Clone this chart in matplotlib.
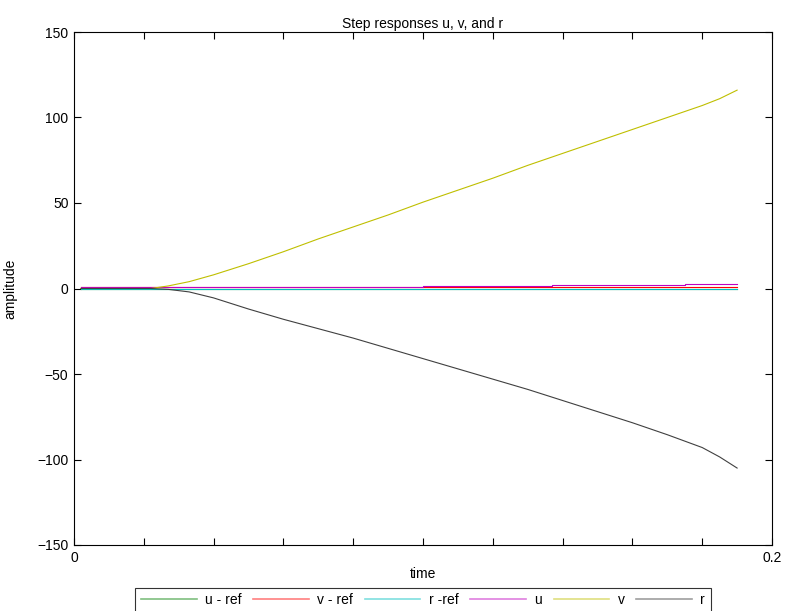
import matplotlib
matplotlib.use("Agg")
import matplotlib.pyplot as plt
import numpy as np

plt.rcParams['font.family'] = ['Liberation Sans', 'DejaVu Sans']

# Sample times and responses (seconds / amplitude)
t_vr = [0.002, 0.022, 0.027, 0.033, 0.040, 0.050, 0.060, 0.070, 0.080, 0.090,
        0.100, 0.110, 0.120, 0.130, 0.140, 0.150, 0.160, 0.170, 0.180, 0.185, 0.190]
v_resp = [0, 0, 1.5, 4, 8, 14.5, 21.5, 29, 36, 43,
          50.5, 57.5, 64.5, 72, 79, 86, 93, 100, 107, 111, 116]
r_resp = [0, 0, -0.5, -2, -5.5, -12, -18, -23.5, -29, -35,
          -41, -47, -53, -59, -65.5, -72, -78.5, -85.5, -93, -98.5, -105]

t_u = [0.002, 0.065, 0.065, 0.100, 0.100, 0.137, 0.137, 0.175, 0.175, 0.190]
u_resp = [0.8, 0.8, 1.1, 1.1, 1.4, 1.4, 1.8, 1.8, 2.5, 2.5]

t_ref = [0.002, 0.190]
u_ref = [0, 0]
v_ref = [0.8, 0.8]
r_ref = [0, 0]

labels = ['u - ref', 'v - ref', 'r -ref', 'u', 'v', 'r']
colors = [(0, 0.5, 0), (1, 0, 0), (0, 0.75, 0.75),
          (0.75, 0, 0.75), (0.75, 0.75, 0), (0.25, 0.25, 0.25)]

fig = plt.figure(figsize=(7.85, 6.11), dpi=100)
ax = fig.add_axes([74 / 785, 1 - 545 / 611, 698 / 785, 513 / 611])

series = [(t_ref, u_ref), (t_ref, v_ref), (t_ref, r_ref),
          (t_u, u_resp), (t_vr, v_resp), (t_vr, r_resp)]
for (tt, yy), lab, col in zip(series, labels, colors):
    ax.plot(tt, yy, color=col, lw=0.8, label=lab)

ax.set_xlim(0, 0.2)
ax.set_ylim(-150, 150)
xt = np.arange(0, 0.2001, 0.02)
ax.set_xticks(xt)
ax.set_xticklabels(['0' if i == 0 else ('0.2' if i == len(xt) - 1 else '')
                    for i in range(len(xt))])
ax.set_yticks([-150, -100, -50, 0, 50, 100, 150])
ax.tick_params(direction='in', top=True, right=True, length=5, width=0.8,
               labelsize=10, pad=4)
for s in ax.spines.values():
    s.set_linewidth(0.8)

ax.set_title('Step responses u, v, and r', fontsize=10, pad=3)
ax.set_xlabel('time', fontsize=10, labelpad=2)
ax.set_ylabel('amplitude', fontsize=10, labelpad=14)

leg = ax.legend(loc='upper center', bbox_to_anchor=(0.5, -0.083), ncol=6,
                fontsize=10, frameon=True, fancybox=False, edgecolor='black',
                handlelength=4.0, handletextpad=0.6, columnspacing=0.85,
                borderpad=0.4, borderaxespad=0)
leg.get_frame().set_linewidth(0.8)
for ln in leg.get_lines():
    ln.set_alpha(0.5)
    ln.set_linewidth(1.2)

fig.savefig('out.png', dpi=100)
